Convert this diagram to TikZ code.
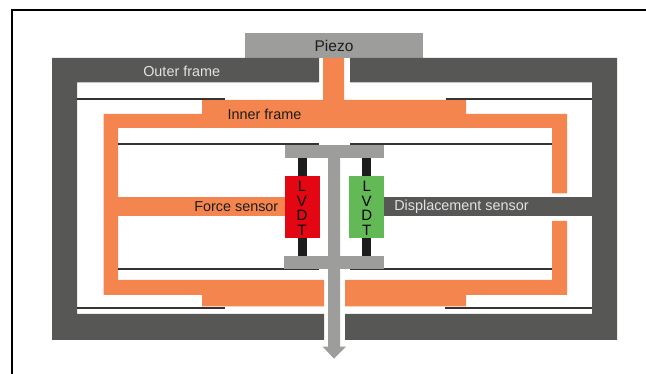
\documentclass[tikz,border=0pt]{standalone}
\usepackage{fontspec}
\setmainfont{Liberation Sans}
\usepackage{xcolor}
\definecolor{framedark}{RGB}{87,87,86}
\definecolor{frameorange}{RGB}{244,133,78}
\definecolor{piezogrey}{RGB}{157,157,156}
\definecolor{forcered}{RGB}{227,6,19}
\definecolor{dispgreen}{RGB}{99,185,85}
\definecolor{rodblack}{RGB}{29,29,27}
\definecolor{labellight}{RGB}{226,226,226}

\begin{document}
\begin{tikzpicture}[
  x=1pt, y=-1pt,
  every node/.style={font=\fontsize{14.4}{14.4}\selectfont, inner sep=0pt},
  outer/.style={fill=framedark},
  inner/.style={fill=frameorange},
  moving/.style={fill=piezogrey},
  rod/.style={fill=rodblack},
  leaf/.style={draw=rodblack!90, line width=1.8pt},
  darklabel/.style={text=rodblack},
  lightlabel/.style={text=labellight},
  lvdt/.style={text=black, align=center, font=\fontsize{15}{14.6}\selectfont}
]
  \useasboundingbox (0,0) rectangle (646,374);
  \draw[black, line width=2pt] (11.5,374) -- (11.5,10.5) -- (646,10.5);

  % piezo and outer frame
  \fill[moving] (245,33) rectangle (423,58);
  \fill[outer] (319,58) -- (52,58) -- (52,340) -- (324,340) -- (324,314) -- (77,314) -- (77,82.5) -- (319,82.5) -- cycle;
  \fill[outer] (350,58) -- (617,58) -- (617,340) -- (345,340) -- (345,314) -- (592,314) -- (592,82.5) -- (350,82.5) -- cycle;
  \fill[outer] (384,197.5) rectangle (592,216.5);

  % inner frame
  \fill[inner] (323,58) -- (344,58) -- (344,100) -- (466,100) -- (466,114) -- (567,114) -- (567,193.5) -- (552,193.5) -- (552,128) -- (118,128) -- (118,280) -- (324,280) -- (324,306.5) -- (202,306.5) -- (202,295) -- (103.5,295) -- (103.5,114) -- (202,114) -- (202,100) -- (323,100) -- cycle;
  \fill[inner] (345,280) -- (552,280) -- (552,221) -- (567,221) -- (567,295) -- (466,295) -- (466,306.5) -- (345,306.5) -- cycle;
  \fill[inner] (118,197.5) rectangle (285,216.5);

  % leaf springs
  \draw[leaf] (77,99) -- (224.5,99);
  \draw[leaf] (446,99) -- (592,99);
  \draw[leaf] (77,307.7) -- (224.5,307.7);
  \draw[leaf] (445,307.7) -- (592,307.7);
  \foreach \y in {144.3,269.3} {
    \draw[leaf] (118,\y) -- (319,\y);
    \draw[leaf] (350,\y) -- (552,\y);
  }

  % moving part with arrow
  \fill[moving] (328,158) -- (328,346.7) -- (322.7,346.7) -- (334,358.7) -- (346,346.7) -- (340,346.7) -- (340,158) -- cycle;
  \fill[moving] (284.7,145) rectangle (384.3,158);
  \fill[moving] (284,255.7) rectangle (383.5,268.7);

  % sensors
  \foreach \x in {297.7,362.3} {
    \fill[rod] (\x,158) rectangle ++(9,18);
    \fill[rod] (\x,238) rectangle ++(9,18);
  }
  \fill[forcered] (285,176) rectangle (319.5,238.3);
  \fill[dispgreen] (349.3,176) rectangle (384,238.3);

  \node[lvdt] (lvdtforce) at (302,208.5) {L\\V\\D\\T};
  \node[lvdt] (lvdtdisp) at (366.7,208.5) {L\\V\\D\\T};

  \node[darklabel, font=\fontsize{15.5}{15.5}\selectfont] (piezo) at (334,46) {Piezo};
  \node[lightlabel] (outerlabel) at (181.7,71) {Outer frame};
  \node[darklabel] (innerlabel) at (264.5,114.5) {Inner frame};
  \node[darklabel] (forcelabel) at (236.3,207) {Force sensor};
  \node[lightlabel] (displabel) at (461.5,207) {Displacement sensor};
\end{tikzpicture}
\end{document}
